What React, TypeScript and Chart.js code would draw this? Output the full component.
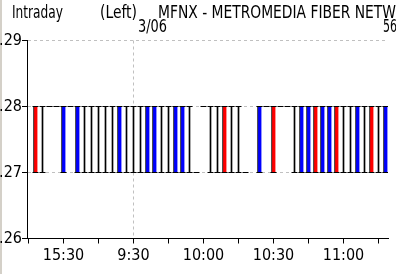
import React, { useEffect, useRef } from "react";
import { Chart, registerables } from "chart.js";
Chart.register(...registerables);

// minutes since 15:15 of the previous session (16:00 close == 9:30 open)
const barMinutes = [3, 6, 9, 12, 15, 18, 21, 24, 27, 30, 33, 36, 39, 42, 45, 48, 51, 54, 57, 60, 63, 66, 69, 72, 75, 78, 81, 84, 87, 90, 93, 99, 102, 105, 108, 111, 114, 117, 120, 123, 126, 129, 132, 135, 138, 141, 144, 147, 150, 153];
const barColors = ["r", "k", "k", "k", "b", "k", "b", "k", "k", "k", "k", "k", "b", "k", "k", "k", "b", "b", "k", "k", "b", "b", "k", "k", "k", "k", "k", "r", "k", "k", "k", "b", "k", "r", "k", "k", "k", "b", "b", "r", "b", "b", "r", "k", "k", "b", "k", "r", "k", "b"];
const barLows = [0.27, 0.27, 0.28, 0.28, 0.27, 0.28, 0.27, 0.27, 0.27, 0.27, 0.27, 0.27, 0.27, 0.27, 0.27, 0.27, 0.27, 0.27, 0.27, 0.27, 0.27, 0.27, 0.27, 0.27, 0.28, 0.27, 0.27, 0.27, 0.27, 0.27, 0.27, 0.27, 0.28, 0.27, 0.28, 0.28, 0.27, 0.27, 0.27, 0.27, 0.27, 0.27, 0.27, 0.27, 0.27, 0.27, 0.27, 0.27, 0.27, 0.27];
const barHighs = [0.28, 0.28, 0.28, 0.28, 0.28, 0.28, 0.28, 0.28, 0.28, 0.28, 0.28, 0.28, 0.28, 0.28, 0.28, 0.28, 0.28, 0.28, 0.28, 0.28, 0.28, 0.28, 0.28, 0.27, 0.28, 0.28, 0.28, 0.28, 0.28, 0.28, 0.27, 0.28, 0.28, 0.28, 0.28, 0.28, 0.28, 0.28, 0.28, 0.28, 0.28, 0.28, 0.28, 0.28, 0.28, 0.28, 0.28, 0.28, 0.28, 0.28];

const xTickValues = [0, 15, 30, 45, 60, 75, 90, 105, 120, 135, 150];
const xTickLabels = ["", "15:30", "", "9:30", "", "10:00", "", "10:30", "", "11:00", ""];
const yTickValues = [0.26, 0.27, 0.28, 0.29];
const yTickLabels = [".26", ".27", ".28", ".29"];
const sessionBreak = 45;

const titleTexts = ["Intraday", "(Left)", "MFNX - METROMEDIA FIBER NETW"];
const dateTexts = ["3/06", "56"];

const FONT = '"DejaVu Sans Condensed", "DejaVu Sans", sans-serif';
const X_MIN = -9 / 14;
const X_MAX = -9 / 14 + (361 * 3) / 7;

export default function App() {
  const ref = useRef<HTMLCanvasElement | null>(null);
  useEffect(() => {
    document.body.style.margin = "0";
    const canvas = ref.current!;
    const bodies = (c: string) =>
      barMinutes
        .map((m, i) => ({ m, i }))
        .filter(({ i }) => barColors[i] === c && barHighs[i] > barLows[i])
        .map(({ m, i }) => ({ x: m, y: [barLows[i], barHighs[i]] }));
    const caps: { x: number; y: number }[] = [];
    barMinutes.forEach((m, i) => {
      caps.push({ x: m, y: barHighs[i] });
      if (barLows[i] !== barHighs[i]) caps.push({ x: m, y: barLows[i] });
    });

    const framePlugin = {
      id: "frame",
      beforeDraw(chart: any) {
        const c = chart.ctx;
        c.save();
        c.fillStyle = "#ffffff";
        c.fillRect(0, 0, chart.width, chart.height);
        c.fillStyle = "#d4d0c8";
        c.fillRect(0, 0, 2, chart.height);
        c.restore();
      },
      afterDraw(chart: any) {
        const c = chart.ctx;
        c.save();
        c.fillStyle = "#000";
        c.font = "18px " + FONT;
        c.textBaseline = "alphabetic";
        c.textAlign = "left";
        c.fillText(titleTexts[0], 12, 18, 51);
        c.fillText(titleTexts[1], 100, 18, 37);
        c.fillText(titleTexts[2], 158, 18, 238);
        c.fillText(dateTexts[0], 138, 32, 29);
        c.fillText(dateTexts[1], 383, 32, 14);
        c.restore();
      },
    };

    const chart = new Chart(canvas, {
      type: "bar",
      data: {
        datasets: [
          {
            type: "scatter",
            data: caps,
            pointStyle: "line",
            pointRadius: 3,
            pointBorderWidth: 1,
            pointBorderColor: "#000",
            pointBackgroundColor: "#000",
            order: 0,
          } as any,
          {
            data: bodies("r"),
            backgroundColor: "#ff0000",
            borderColor: "#000",
            borderWidth: { left: 1, right: 0, top: 0, bottom: 0 },
            borderSkipped: false,
            barThickness: 4,
            grouped: false,
            order: 1,
          } as any,
          {
            data: bodies("b"),
            backgroundColor: "#0000ff",
            borderColor: "#000",
            borderWidth: { left: 1, right: 0, top: 0, bottom: 0 },
            borderSkipped: false,
            barThickness: 4,
            grouped: false,
            order: 1,
          } as any,
          {
            data: bodies("k"),
            backgroundColor: "#000",
            borderWidth: 0,
            barThickness: 1,
            grouped: false,
            order: 1,
          } as any,
        ],
      },
      options: {
        animation: false,
        responsive: false,
        maintainAspectRatio: false,
        layout: { padding: { left: 0, top: 40.5, right: 8, bottom: 0 } },
        plugins: { legend: { display: false }, tooltip: { enabled: false } },
        scales: {
          x: {
            type: "linear",
            min: X_MIN,
            max: X_MAX,
            offset: false,
            afterFit: (s: any) => {
              s.height = 35.5;
            },
            afterBuildTicks: (s: any) => {
              s.ticks = xTickValues.map((v) => ({ value: v }));
            },
            ticks: {
              autoSkip: false,
              maxRotation: 0,
              padding: 3,
              color: "#000",
              font: { family: FONT, size: 16 },
              callback: (v: any) => {
                const i = xTickValues.indexOf(Number(v));
                return i >= 0 ? xTickLabels[i] : "";
              },
            },
            grid: {
              offset: false,
              color: (ctx: any) => (ctx.tick && ctx.tick.value === sessionBreak ? "#c0c0c0" : "rgba(0,0,0,0)"),
              tickColor: "#000",
              tickLength: 5,
              lineWidth: 1,
            },
            border: { display: true, color: "#000", width: 1, dash: [3, 3] },
          },
          y: {
            type: "linear",
            min: 0.26,
            max: 0.29,
            afterFit: (s: any) => {
              s.width = 27;
            },
            afterBuildTicks: (s: any) => {
              s.ticks = yTickValues.map((v) => ({ value: v }));
            },
            ticks: {
              padding: 0,
              color: "#000",
              font: { family: FONT, size: 16 },
              callback: (v: any) => {
                const i = yTickValues.findIndex((t) => Math.abs(t - Number(v)) < 1e-9);
                return i >= 0 ? yTickLabels[i] : "";
              },
            },
            grid: {
              color: (ctx: any) =>
                ctx.tick && Math.abs(ctx.tick.value - 0.26) < 1e-9 ? "rgba(0,0,0,0)" : "#c0c0c0",
              tickColor: "#000",
              tickLength: 5,
              lineWidth: 1,
            },
            border: { display: true, color: "#000", width: 1, dash: [3, 3] },
          },
        },
      },
      plugins: [framePlugin],
    });
    return () => chart.destroy();
  }, []);
  return <canvas ref={ref} width={396} height={274} style={{ display: "block" }} />;
}
